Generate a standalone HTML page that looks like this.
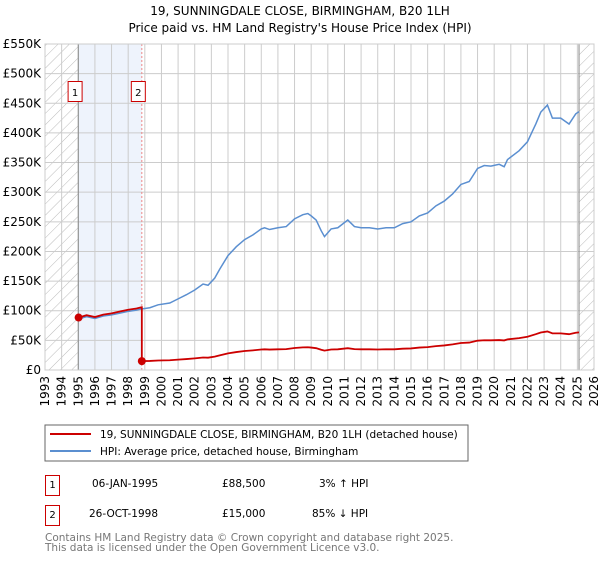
<!DOCTYPE html>
<html><head><meta charset="utf-8"><style>
body{margin:0;background:#fff;font-family:"DejaVu Sans","Liberation Sans",sans-serif;}
svg text{font-family:"DejaVu Sans","Liberation Sans",sans-serif;}
</style></head><body>
<svg id="c" width="600" height="560" xmlns="http://www.w3.org/2000/svg">
<defs><pattern id="h" width="8" height="8" patternUnits="userSpaceOnUse" patternTransform="rotate(45)"><line x1="0" y1="0" x2="0" y2="8" stroke="#bbb" stroke-width="1"/></pattern></defs>
<text x="300" y="15" text-anchor="middle" font-size="12">19, SUNNINGDALE CLOSE, BIRMINGHAM, B20 1LH</text>
<text x="300" y="32" text-anchor="middle" font-size="12">Price paid vs. HM Land Registry's House Price Index (HPI)</text>
<g id="plot"></g>
<rect x="45" y="425" width="423" height="36" fill="none" stroke="#666"/>
<line x1="50" y1="434" x2="91" y2="434" stroke="#cc0000" stroke-width="2"/>
<text x="100" y="438" font-size="10.5">19, SUNNINGDALE CLOSE, BIRMINGHAM, B20 1LH (detached house)</text>
<line x1="50" y1="451" x2="91" y2="451" stroke="#5b8fd0" stroke-width="2"/>
<text x="100" y="455" font-size="10.5">HPI: Average price, detached house, Birmingham</text>
<g>
<rect x="45.5" y="475.5" width="14" height="20" fill="none" stroke="#cc0000"/><text x="52.5" y="488" text-anchor="middle" font-size="10">1</text>
<text x="92" y="487" font-size="10.5">06-JAN-1995</text><text x="222" y="487" font-size="10.5">£88,500</text><text x="319" y="487" font-size="10.5">3% ↑ HPI</text></g>
<g>
<rect x="45.5" y="505.5" width="14" height="20" fill="none" stroke="#cc0000"/><text x="52.5" y="518" text-anchor="middle" font-size="10">2</text>
<text x="89" y="517" font-size="10.5">26-OCT-1998</text><text x="222" y="517" font-size="10.5">£15,000</text><text x="312" y="517" font-size="10.5">85% ↓ HPI</text></g>
<text x="45" y="541" font-size="10.5" fill="#777">Contains HM Land Registry data © Crown copyright and database right 2025.</text>
<text x="45" y="551" font-size="10.5" fill="#777">This data is licensed under the Open Government Licence v3.0.</text>
</svg>
<script>
const yearTicks=[1993,1994,1995,1996,1997,1998,1999,2000,2001,2002,2003,2004,2005,2006,2007,2008,2009,2010,2011,2012,2013,2014,2015,2016,2017,2018,2019,2020,2021,2022,2023,2024,2025,2026];
const valueTicks=[0,50,100,150,200,250,300,350,400,450,500,550];
const valueLabels=["£0","£50K","£100K","£150K","£200K","£250K","£300K","£350K","£400K","£450K","£500K","£550K"];
const hpiYears=[1995.0,1995.5,1996,1996.5,1997,1997.5,1998,1998.5,1998.8,1999.3,1999.8,2000.5,2001,2001.5,2002,2002.5,2002.8,2003.2,2003.5,2004,2004.5,2005,2005.5,2006,2006.2,2006.5,2007,2007.5,2008,2008.5,2008.8,2009,2009.3,2009.6,2009.8,2010.2,2010.6,2011.2,2011.6,2012,2012.5,2013,2013.5,2014,2014.5,2015,2015.5,2016,2016.5,2017,2017.5,2018,2018.5,2019,2019.4,2019.8,2020.3,2020.6,2020.8,2021.5,2022,2022.5,2022.8,2023.2,2023.5,2024,2024.5,2024.9,2025.1];
const hpiValues=[86,90,87,91,93,96,99,101,103,105,110,113,120,127,135,145,143,155,170,193,208,220,228,238,240,237,240,242,255,262,264,260,253,235,225,238,240,253,242,240,240,238,240,240,247,250,260,265,277,285,297,313,318,340,345,344,347,343,355,370,385,415,435,447,425,425,415,432,436];
const saleYears=[1995.02,1998.82];
const salePrices=[88.5,15];
const x0=45,x1=594,y0=370,yTop=44;
const X=y=>x0+(y-1993)*(x1-x0)/33;
const Y=v=>y0-v*(y0-yTop)/550;
const ns="http://www.w3.org/2000/svg",g=document.getElementById('plot');
function mk(t,a,p){const e=document.createElementNS(ns,t);for(const k in a)e.setAttribute(k,a[k]);(p||g).appendChild(e);return e;}
let e;
e=mk('rect',{x:X(1995),y:yTop,width:X(saleYears[1])-X(1995),height:y0-yTop,fill:'#eef3fc'});


e=mk('rect',{x:x0,y:yTop,width:X(1995)-x0,height:y0-yTop,fill:'url(#h)'});


e=mk('rect',{x:X(2025.1),y:yTop,width:x1-X(2025.1),height:y0-yTop,fill:'url(#h)'});


yearTicks.forEach(yr=>{
 e=mk('line',{x1:X(yr),x2:X(yr),y1:yTop,y2:y0,stroke:'#ccc'});
 
 
 const tx=X(yr)+4, ty=y0+6;
 e=mk('text',{x:tx,y:ty,'text-anchor':'end','font-size':'12',transform:'rotate(-90 '+tx+' '+ty+')'});e.textContent=yr;
 
 
});
valueTicks.forEach((v,i)=>{
 e=mk('line',{x1:x0,x2:x1,y1:Y(v),y2:Y(v),stroke:'#ccc'});
 
 
 e=mk('text',{x:x0-4,y:Y(v)+4,'text-anchor':'end','font-size':'12'});e.textContent=valueLabels[i];
 
 
});
e=mk('line',{x1:X(1995),x2:X(1995),y1:yTop,y2:y0,stroke:'#888'});


e=mk('line',{x1:X(saleYears[1]),x2:X(saleYears[1]),y1:yTop,y2:y0,stroke:'#e88','stroke-dasharray':'2,2'});


e=mk('line',{x1:X(2025.1),x2:X(2025.1),y1:yTop,y2:y0,stroke:'#888'});


e=mk('polyline',{points:hpiYears.map((t,i)=>X(t)+','+Y(hpiValues[i])).join(' '),fill:'none',stroke:'#5b8fd0','stroke-width':1.5});


function hpiAt(t){for(let i=1;i<hpiYears.length;i++){if(t<=hpiYears[i]){const f=(t-hpiYears[i-1])/(hpiYears[i]-hpiYears[i-1]);return hpiValues[i-1]+f*(hpiValues[i]-hpiValues[i-1]);}}return hpiValues[hpiValues.length-1];}
const pts=[];
hpiYears.forEach((t,i)=>{const k=t<saleYears[1]?0:1;const v=salePrices[k]*hpiValues[i]/hpiAt(saleYears[k]);
 if(k==1&&pts.length&&pts[pts.length-1][2]==0){pts.push([saleYears[1],salePrices[0]*hpiAt(saleYears[1])/hpiAt(saleYears[0]),0]);pts.push([saleYears[1],salePrices[1],1]);}
 pts.push([t,v,k]);});
e=mk('polyline',{points:pts.map(p=>X(p[0])+','+Y(p[1])).join(' '),fill:'none',stroke:'#cc0000','stroke-width':1.8});


saleYears.forEach((t,i)=>{
 e=mk('circle',{cx:X(t),cy:Y(salePrices[i]),r:4,fill:'#cc0000'});
 
 
 const bx=X(t)-(i==0?10:10);
 e=mk('rect',{x:bx-0.5,y:yTop+37.5,width:14,height:20,fill:'#fff',stroke:'#cc0000'});
 
 
 e=mk('text',{x:bx+6.5,y:yTop+52,'text-anchor':'middle','font-size':'10'});e.textContent=i+1;
 
 
});
e=mk('rect',{x:x0,y:yTop,width:x1-x0,height:y0-yTop,fill:'none',stroke:'#ccc'});


</script>
</body></html>
